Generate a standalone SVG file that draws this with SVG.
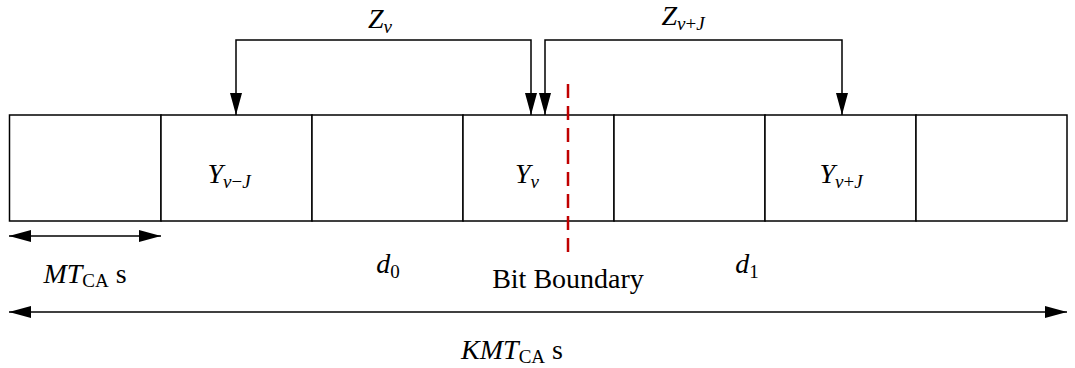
<svg xmlns="http://www.w3.org/2000/svg" width="1075" height="368" viewBox="0 0 1075 368">
<style>
.box{fill:#fff;stroke:#000;stroke-width:1.5}
.ln{fill:none;stroke:#000;stroke-width:1.5}
.t{font-family:"Liberation Serif",serif;font-size:28px;fill:#000}
.i{font-style:italic}
.s{font-size:19px}
</style>
<defs>
<marker id="ah" viewBox="0 0 22 12" refX="22" refY="6" markerWidth="22" markerHeight="12" markerUnits="userSpaceOnUse" orient="auto-start-reverse">
<path d="M0,0 L22,6 L0,12 Z" fill="#000"/>
</marker>
</defs>
<rect width="1075" height="368" fill="#fff"/>
<g id="cells">
<rect id="c0" class="box" x="9.5" y="115" width="151.5" height="106"/>
<rect id="c1" class="box" x="161" y="115" width="151" height="106"/>
<rect id="c2" class="box" x="312" y="115" width="151" height="106"/>
<rect id="c3" class="box" x="463" y="115" width="151" height="106"/>
<rect id="c4" class="box" x="614" y="115" width="151" height="106"/>
<rect id="c5" class="box" x="765" y="115" width="151" height="106"/>
<rect id="c6" class="box" x="916" y="115" width="151" height="106"/>
</g>
<g id="connectors">
<path class="ln" d="M236,115 L236,40 L531,40 L531,115" marker-start="url(#ah)" marker-end="url(#ah)"/>
<path class="ln" d="M545,115 L545,40 L842,40 L842,115" marker-start="url(#ah)" marker-end="url(#ah)"/>
<path class="ln" d="M9,236 L161,236" marker-start="url(#ah)" marker-end="url(#ah)"/>
<path class="ln" d="M9,312 L1067,312" marker-start="url(#ah)" marker-end="url(#ah)"/>
<line x1="568" y1="84" x2="568" y2="252" stroke="#c00000" stroke-width="2.5" stroke-dasharray="14,8"/>
</g>
<g id="labels">
<text class="t" x="380" y="28" text-anchor="middle"><tspan class="i">Z</tspan><tspan class="i s" dy="5">ν</tspan></text>
<text class="t" x="683" y="25" text-anchor="middle"><tspan class="i">Z</tspan><tspan class="i s" dy="5">ν</tspan><tspan class="s">+</tspan><tspan class="i s">J</tspan></text>
<text class="t" x="229" y="183" text-anchor="middle"><tspan class="i">Y</tspan><tspan class="i s" dy="5">ν</tspan><tspan class="s">−</tspan><tspan class="i s">J</tspan></text>
<text class="t" x="527" y="183" text-anchor="middle"><tspan class="i">Y</tspan><tspan class="i s" dy="5">ν</tspan></text>
<text class="t" x="841" y="183" text-anchor="middle"><tspan class="i">Y</tspan><tspan class="i s" dy="5">ν</tspan><tspan class="s">+</tspan><tspan class="i s">J</tspan></text>
<text class="t" x="388" y="273" text-anchor="middle"><tspan class="i">d</tspan><tspan class="s" dy="5">0</tspan></text>
<text class="t" x="747" y="273" text-anchor="middle"><tspan class="i">d</tspan><tspan class="s" dy="5">1</tspan></text>
<text class="t" x="568" y="288" text-anchor="middle">Bit Boundary</text>
<text class="t" x="85" y="283" text-anchor="middle"><tspan class="i">MT</tspan><tspan class="s" dy="4">CA</tspan><tspan dy="-4"> s</tspan></text>
<text class="t" x="512" y="359" text-anchor="middle"><tspan class="i">KMT</tspan><tspan class="s" dy="4">CA</tspan><tspan dy="-4"> s</tspan></text>
</g>
</svg>
